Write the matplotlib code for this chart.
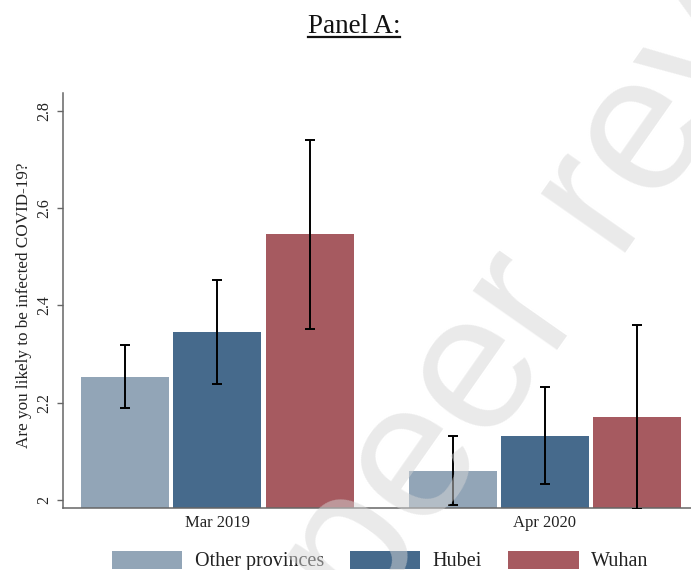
import matplotlib
matplotlib.use("Agg")
import matplotlib.pyplot as plt
import numpy as np
from matplotlib.patches import Patch
from matplotlib.lines import Line2D

# Survey waves and respondent groups
periods = ["Mar 2019", "Apr 2020"]
groups = ["Other provinces", "Hubei", "Wuhan"]

# Mean answer per group and wave, with confidence bounds
other_mean = [2.253, 2.060]
other_lo = [2.190, 1.990]
other_hi = [2.318, 2.131]

hubei_mean = [2.346, 2.132]
hubei_lo = [2.239, 2.033]
hubei_hi = [2.452, 2.232]

wuhan_mean = [2.547, 2.170]
wuhan_lo = [2.352, 1.981]
wuhan_hi = [2.741, 2.359]

yticks = [2, 2.2, 2.4, 2.6, 2.8]
ytick_labels = ["2", "2.2", "2.4", "2.6", "2.8"]

colors = ["#92a5b7", "#466a8c", "#a65a60"]
serif = ["Liberation Serif", "DejaVu Serif"]

W, H = 691, 570
fig = plt.figure(figsize=(W / 100, H / 100), dpi=100)
ax = fig.add_axes([63 / W, (H - 508.3) / H, (W - 63) / W, (508.3 - 93.3) / H])

x = np.arange(len(periods))
step = 0.2817
width = 0.2686
series = [
    (other_mean, other_lo, other_hi),
    (hubei_mean, hubei_lo, hubei_hi),
    (wuhan_mean, wuhan_lo, wuhan_hi),
]
for i, (m, lo, hi) in enumerate(series):
    pos = x + (i - 1) * step
    m = np.asarray(m)
    yerr = np.vstack([m - np.asarray(lo), np.asarray(hi) - m])
    ax.bar(pos, m, width=width, color=colors[i], zorder=2)
    ax.errorbar(pos, m, yerr=yerr, fmt="none", ecolor="black",
                elinewidth=1.4, capsize=3.4, capthick=1.4, zorder=3)

ax.set_xlim(-0.471, 1.446)
ax.set_ylim(1.983, 2.836)

for s in ["top", "right"]:
    ax.spines[s].set_visible(False)
for s in ["left", "bottom"]:
    ax.spines[s].set_color("#666666")
    ax.spines[s].set_linewidth(1.1)

ax.set_yticks(yticks)
ax.set_yticklabels(ytick_labels, rotation=90, va="center",
                   family=serif, fontsize=11.5, color="#222222")
ax.tick_params(axis="y", direction="out", length=4.5, width=1, color="#666666", pad=3)
ax.set_xticks(x)
ax.set_xticklabels(periods, family=serif, fontsize=12, color="#222222")
ax.tick_params(axis="x", length=0, pad=5)

fig.text(24 / W, 1 - 305 / H, "Are you likely to be infected COVID-19?",
         rotation=90, ha="center", va="center", family=serif,
         fontsize=12.3, color="#222222")

# Panel heading with underline
title = fig.text(354 / W, 1 - 33 / H, "Panel A:", ha="center", va="baseline",
                 family=serif, fontsize=19.5, color="#111111")
fig.canvas.draw()
bb = title.get_window_extent(renderer=fig.canvas.get_renderer())
uy = 1 - 36.5 / H
fig.add_artist(Line2D([bb.x0 / W, bb.x1 / W], [uy, uy], transform=fig.transFigure,
                      color="#111111", linewidth=1.6))

handles = [Patch(facecolor=c, edgecolor="none") for c in colors]
fig.legend(handles, groups, loc="center", bbox_to_anchor=(380 / W, 1 - 561 / H),
           ncol=3, frameon=False, prop={"family": serif, "size": 14.5},
           handlelength=3.5, handleheight=1.0, handletextpad=0.6,
           columnspacing=1.3, labelcolor="#222222", borderpad=0)

# Review watermark
fig.text(364 / W, 1 - 626 / H, "peer review", rotation=55, rotation_mode="anchor",
         ha="left", va="baseline", family=["Liberation Sans", "DejaVu Sans"],
         fontsize=140, color="#d6d6d6", alpha=0.5, zorder=10)

fig.savefig("out.png", dpi=100)
